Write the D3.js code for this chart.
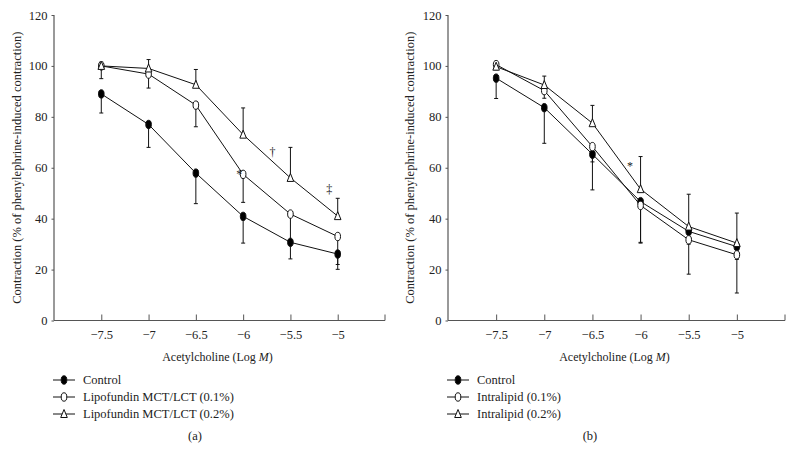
<!DOCTYPE html>
<html><head><meta charset="utf-8">
<script src="https://cdn.jsdelivr.net/npm/d3@7"></script>
<style>body{margin:0;background:#fff}svg{display:block}text{font-family:"Liberation Serif","Times New Roman",serif;fill:#222}</style>
</head><body>
<svg id="c" width="793" height="453"></svg>
<script>
const doses = [-7.5, -7, -6.5, -6, -5.5, -5];
const xTicks = [-7.5, -7, -6.5, -6, -5.5, -5];
const yTicks = [0, 20, 40, 60, 80, 100, 120];

// Panel (a)
const aControl = [89, 77, 57.9, 40.9, 30.7, 26.1];
const aControlErr = [7.5, 9, 12, 10.5, 6.5, 6];        // downward
const aLipo01 = [100, 96.8, 84.6, 57.4, 41.8, 33];
const aLipo01Err = [5, 5.5, 8.5, 11, 11, 11];           // downward
const aLipo02 = [100, 99, 92.6, 73, 56, 41];
const aLipo02Err = [1.5, 3.5, 6, 10.5, 12, 7];          // upward
const aLabels = ["Control", "Lipofundin MCT/LCT (0.1%)", "Lipofundin MCT/LCT (0.2%)"];
const aMarks = [{t:"*", x:-6.04, y:57.5}, {t:"†", x:-5.69, y:66}, {t:"‡", x:-5.09, y:51.5}];

// Panel (b)
const bControl = [95.2, 83.6, 65.3, 46.7, 35, 29];
const bControlErr = [8, 14, 14, 16, 5, 5];              // downward
const bIntra01 = [100.5, 90.3, 68.3, 45.2, 31.7, 25.8];
const bIntra01Err = [2, 3, 6, 14.8, 13.5, 15];          // downward
const bIntra02 = [99.7, 92.5, 77.5, 51.6, 36.9, 30.4];
const bIntra02Err = [1, 3.5, 7, 12.8, 12.7, 11.8];      // upward
const bLabels = ["Control", "Intralipid (0.1%)", "Intralipid (0.2%)"];
const bMarks = [{t:"*", x:-6.11, y:60.5}];

const svg = d3.select("#c");

function panel(opt) {
  const x = d3.scaleLinear().domain([-8, -4.5]).range([opt.x0, opt.x1]);
  const y = d3.scaleLinear().domain([0, 120]).range([320.5, 15]);
  const g = svg.append("g");

  // axes
  const ya = g.append("g").attr("transform", `translate(${opt.x0},0)`)
    .call(d3.axisLeft(y).tickValues(yTicks).tickSize(2.5).tickPadding(4).tickFormat(d3.format("d")));
  ya.select(".domain").remove();
  ya.append("line").attr("x1",0).attr("x2",0).attr("y1",y(120)).attr("y2",y(0)).attr("stroke","#555").attr("stroke-width",1.2);
  const xa = g.append("g").attr("transform", `translate(0,${y(0)})`)
    .call(d3.axisBottom(x).tickValues(xTicks).tickSize(-6).tickPadding(10).tickFormat(d => d3.format("")(d).replace("-", "−")));
  xa.select(".domain").remove();
  xa.append("line").attr("x1",x(-8)).attr("x2",x(-4.5)).attr("y1",0).attr("y2",0).attr("stroke","#555").attr("stroke-width",1.2);
  xa.append("line").attr("x1",x(-4.5)).attr("x2",x(-4.5)).attr("y1",0).attr("y2",-6).attr("stroke","#555");
  g.selectAll(".tick line").attr("stroke","#555");
  g.selectAll(".tick text").attr("font-size", 12.5).attr("fill","#222").style("font-family",'"Liberation Serif",serif');

  // axis titles
  g.append("text").attr("transform", `translate(${opt.ylx},${y(60)}) rotate(-90)`)
    .attr("text-anchor","middle").attr("dominant-baseline","central").attr("font-size",12.5)
    .text("Contraction (% of phenylephrine-induced contraction)");
  const xt = g.append("text").attr("x", (opt.x0 + opt.x1)/2 - 2).attr("y", 361).attr("text-anchor","middle").attr("font-size",12);
  xt.append("tspan").text("Acetylcholine (Log ");
  xt.append("tspan").attr("font-style","italic").text("M");
  xt.append("tspan").text(")");

  const series = opt.series;
  const line = d3.line().x((d,i) => x(doses[i])).y(d => y(d));
  // lines
  series.forEach(s => {
    g.append("path").attr("d", line(s.v)).attr("fill","none").attr("stroke","#111").attr("stroke-width",1);
  });
  // error bars
  series.forEach(s => {
    s.v.forEach((v,i) => {
      const e = s.e[i], yEnd = y(v + s.dir*e), cx = x(doses[i]);
      g.append("line").attr("x1",cx).attr("x2",cx).attr("y1",y(v)).attr("y2",yEnd).attr("stroke","#111").attr("stroke-width",1);
      g.append("line").attr("x1",cx-2).attr("x2",cx+2).attr("y1",yEnd).attr("y2",yEnd).attr("stroke","#111").attr("stroke-width",1);
    });
  });
  // markers
  function marker(sel, type, cx, cy) {
    if (type === "tri") {
      sel.append("path").attr("d", `M${cx},${cy-4.5}L${cx+3.3},${cy+3.5}L${cx-3.3},${cy+3.5}Z`)
        .attr("fill","#fff").attr("stroke","#111").attr("stroke-width",1);
    } else {
      sel.append("ellipse").attr("cx",cx).attr("cy",cy).attr("rx",2.8).attr("ry",4.2)
        .attr("fill", type === "fill" ? "#000" : "#fff").attr("stroke","#111").attr("stroke-width",1);
    }
  }
  series.forEach(s => s.v.forEach((v,i) => marker(g, s.type, x(doses[i]), y(v))));

  // significance marks
  opt.marks.forEach(m => {
    g.append("text").attr("x", x(m.x)).attr("y", y(m.y)).attr("text-anchor","middle")
      .attr("dominant-baseline","central").attr("font-size",12).attr("fill","#555").text(m.t);
  });

  // legend
  const ly = [380, 397, 414];
  series.forEach((s,i) => {
    const lx = opt.legX;
    g.append("line").attr("x1",lx).attr("x2",lx+22).attr("y1",ly[i]).attr("y2",ly[i]).attr("stroke","#111").attr("stroke-width",1);
    marker(g, s.type, lx+11, ly[i]);
    g.append("text").attr("x", lx+30).attr("y", ly[i]).attr("dominant-baseline","central").attr("font-size",12.5).text(opt.labels[i]);
  });
  g.append("text").attr("x", opt.capX).attr("y", 440).attr("text-anchor","middle").attr("font-size",12.5).text(opt.cap);
}

panel({x0:54, x1:385, ylx:17, legX:53, capX:195, cap:"(a)", labels:aLabels, marks:aMarks,
  series:[
    {v:aLipo02, e:aLipo02Err, dir:1, type:"tri"},
    {v:aLipo01, e:aLipo01Err, dir:-1, type:"open"},
    {v:aControl, e:aControlErr, dir:-1, type:"fill"}
  ].reverse()});
panel({x0:448, x1:785, ylx:410, legX:447, capX:590, cap:"(b)", labels:bLabels, marks:bMarks,
  series:[
    {v:bIntra02, e:bIntra02Err, dir:1, type:"tri"},
    {v:bIntra01, e:bIntra01Err, dir:-1, type:"open"},
    {v:bControl, e:bControlErr, dir:-1, type:"fill"}
  ].reverse()});
</script>
</body></html>
